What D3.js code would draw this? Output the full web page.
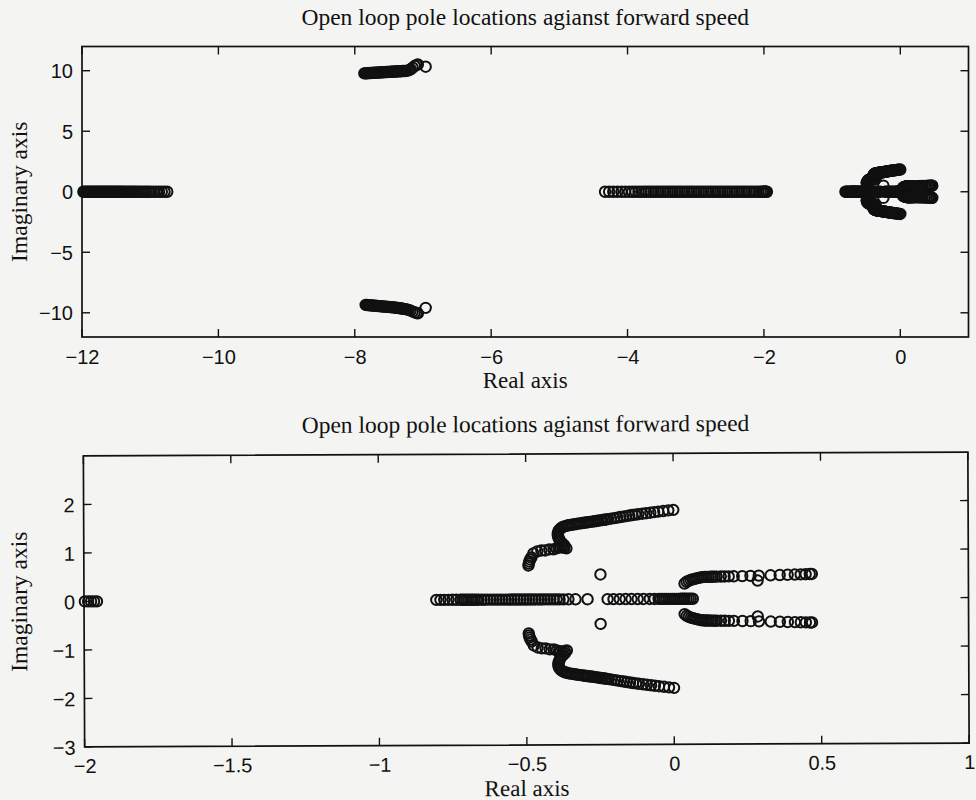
<!DOCTYPE html>
<html>
<head>
<meta charset="utf-8">
<script src="https://cdn.jsdelivr.net/npm/d3@7"></script>
<style>
  html, body { margin: 0; padding: 0; background: #f4f4f2; }
  svg { display: block; }
</style>
</head>
<body>
<svg id="chart" width="976" height="800"></svg>
<script>
// ---------- labels ----------
const titleText = "Open loop pole locations agianst forward speed";
const xLabelText = "Real axis";
const yLabelText = "Imaginary axis";

// ---------- tick values ----------
const topXTicks = [-12, -10, -8, -6, -4, -2, 0];
const topYTicks = [-10, -5, 0, 5, 10];
const bottomXTicks = [-2, -1.5, -1, -0.5, 0, 0.5, 1];
const bottomYTicks = [-3, -2, -1, 0, 1, 2];

// ---------- pole data ----------
// real poles, far left branch
const realPolesFar = [-11.98,-11.96,-11.94,-11.92,-11.90,-11.88,-11.86,-11.84,-11.82,-11.80,
  -11.78,-11.76,-11.74,-11.72,-11.70,-11.68,-11.66,-11.64,-11.62,-11.60,-11.58,-11.56,-11.54,
  -11.52,-11.50,-11.48,-11.46,-11.44,-11.42,-11.40,-11.375,-11.35,-11.325,-11.30,-11.275,-11.25,
  -11.225,-11.20,-11.17,-11.14,-11.11,-11.08,-11.05,-11.02,-10.99,-10.95,-10.91,-10.87,-10.83,
  -10.79,-10.75];

// real poles, middle branch
const realPolesMid = [-4.33,-4.27,-4.21,-4.15,-4.09,-4.035,-3.98,-3.93,-3.885,-3.84,-3.80,-3.76,
  -3.725,-3.69,-3.655,-3.62,-3.585,-3.55,-3.515,-3.48,-3.445,-3.41,-3.375,-3.34,-3.305,-3.27,
  -3.235,-3.20,-3.165,-3.13,-3.095,-3.06,-3.025,-2.99,-2.955,-2.92,-2.885,-2.85,-2.815,-2.78,
  -2.745,-2.71,-2.675,-2.64,-2.605,-2.57,-2.535,-2.50,-2.465,-2.43,-2.395,-2.36,-2.325,-2.29,
  -2.255,-2.22,-2.185,-2.15,-2.115,-2.08,-2.05,-2.025,-2.008,-1.997,-1.986,-1.976,-1.966,-1.956];

// real poles near the origin, left group
const realPolesNearLeft = [-0.805,-0.791,-0.778,-0.764,-0.750,-0.737,-0.723,-0.716,-0.710,-0.703,
  -0.696,-0.689,-0.683,-0.676,-0.669,-0.662,-0.652,-0.642,-0.632,-0.621,-0.611,-0.601,-0.591,
  -0.581,-0.570,-0.560,-0.550,-0.540,-0.530,-0.520,-0.509,-0.499,-0.489,-0.479,-0.469,-0.458,
  -0.448,-0.438,-0.428,-0.418,-0.407,-0.397,-0.387,-0.374,-0.357,-0.333,-0.292];

// real poles near the origin, right group
const realPolesNearRight = [-0.224,-0.204,-0.183,-0.163,-0.143,-0.122,-0.102,-0.081,-0.065,-0.051,
  -0.044,-0.037,-0.031,-0.024,-0.017,-0.010,-0.003,0.003,0.010,0.017,0.024,0.031,0.037,0.044,
  0.051,0.058,0.065];

// high-frequency complex poles [re, im], upper and lower halves
const highPolesUpper = [[-7.86,9.78],[-7.84,9.79],[-7.82,9.79],[-7.80,9.80],[-7.78,9.81],[-7.76,9.81],
  [-7.74,9.82],[-7.72,9.83],[-7.70,9.83],[-7.68,9.84],[-7.66,9.85],[-7.64,9.85],[-7.62,9.86],
  [-7.60,9.87],[-7.58,9.87],[-7.56,9.88],[-7.54,9.89],[-7.52,9.89],[-7.50,9.90],[-7.48,9.91],
  [-7.46,9.91],[-7.44,9.92],[-7.42,9.93],[-7.40,9.93],[-7.38,9.94],[-7.36,9.95],[-7.34,9.95],
  [-7.32,9.96],[-7.30,9.97],[-7.28,9.97],[-7.26,9.98],[-7.24,9.99],[-7.21,10.03],[-7.18,10.12],
  [-7.15,10.25],[-7.12,10.39],[-7.09,10.48],[-7.075,10.52],[-6.96,10.33]];
const highPolesLower = [[-7.84,-9.35],[-7.82,-9.36],[-7.80,-9.37],[-7.78,-9.38],[-7.76,-9.39],
  [-7.74,-9.40],[-7.72,-9.41],[-7.70,-9.42],[-7.68,-9.43],[-7.66,-9.44],[-7.64,-9.45],[-7.62,-9.46],
  [-7.60,-9.47],[-7.58,-9.48],[-7.56,-9.49],[-7.54,-9.50],[-7.52,-9.51],[-7.50,-9.52],[-7.48,-9.53],
  [-7.46,-9.54],[-7.44,-9.55],[-7.42,-9.56],[-7.40,-9.58],[-7.38,-9.59],[-7.36,-9.61],[-7.34,-9.62],
  [-7.32,-9.64],[-7.30,-9.66],[-7.28,-9.68],[-7.26,-9.70],[-7.24,-9.72],[-7.21,-9.76],[-7.18,-9.82],
  [-7.15,-9.90],[-7.12,-9.97],[-7.09,-10.02],[-7.075,-10.05],[-6.96,-9.59]];

// conjugate pairs near the origin (upper half stored, mirrored when drawn)
const nearPairsLeft = [[-0.492,0.701],[-0.491,0.742],[-0.489,0.784],[-0.486,0.825],[-0.482,0.866],
  [-0.475,0.948],[-0.462,0.990],[-0.448,1.010],[-0.435,1.010],[-0.421,1.031],[-0.407,1.031],
  [-0.397,1.052],[-0.390,1.072],[-0.384,1.072],[-0.377,1.072],[-0.370,1.062],[-0.363,1.052],
  [-0.370,1.113],[-0.377,1.155],[-0.384,1.196],[-0.387,1.237],[-0.390,1.278],[-0.392,1.320],
  [-0.392,1.361],[-0.390,1.402],[-0.387,1.433],[-0.382,1.464],[-0.377,1.485],[-0.370,1.505],
  [-0.363,1.515],[-0.357,1.526],[-0.350,1.532],[-0.343,1.538],[-0.336,1.546],[-0.329,1.553],
  [-0.323,1.559],[-0.316,1.565],[-0.309,1.571],[-0.302,1.577],[-0.295,1.584],[-0.289,1.588],
  [-0.282,1.594],[-0.275,1.600],[-0.268,1.606],[-0.261,1.612],[-0.255,1.619],[-0.248,1.625],
  [-0.241,1.631],[-0.234,1.637],[-0.228,1.643],[-0.221,1.649],[-0.211,1.660],[-0.200,1.670],
  [-0.190,1.680],[-0.180,1.691],[-0.170,1.701],[-0.160,1.711],[-0.149,1.722],[-0.139,1.732],
  [-0.129,1.740],[-0.119,1.748],[-0.105,1.759],[-0.092,1.769],[-0.078,1.779],[-0.065,1.790],
  [-0.051,1.800],[-0.034,1.812],[-0.017,1.825],[0.000,1.835]];
const nearPairsRight = [[0.037,0.315],[0.044,0.35],[0.051,0.37],[0.058,0.39],[0.065,0.40],
  [0.071,0.41],[0.078,0.42],[0.085,0.43],[0.092,0.44],[0.098,0.445],[0.105,0.45],[0.112,0.45],
  [0.119,0.45],[0.126,0.452],[0.132,0.453],[0.139,0.454],[0.146,0.455],[0.160,0.456],[0.173,0.457],
  [0.187,0.458],[0.204,0.46],[0.233,0.463],[0.261,0.467],[0.289,0.471],[0.329,0.477],[0.360,0.482],
  [0.387,0.487],[0.411,0.491],[0.431,0.494],[0.448,0.497],[0.462,0.499],[0.469,0.50]];
const nearPairsSingle = [[-0.248,0.51],[0.285,0.37]];

// ---------- assemble all poles as [re, im] ----------
const poles = [];
[realPolesFar, realPolesMid, realPolesNearLeft, realPolesNearRight]
  .forEach(arr => arr.forEach(v => poles.push([v, 0])));
highPolesUpper.forEach(p => poles.push(p));
highPolesLower.forEach(p => poles.push(p));
[nearPairsLeft, nearPairsRight, nearPairsSingle].forEach(arr => arr.forEach(([re, im]) => {
  poles.push([re, im]);
  poles.push([re, -im]);
}));

// ---------- drawing ----------
const svg = d3.select("#chart");
const ink = "#111";
const serif = "'Liberation Serif', 'Times New Roman', serif";
const sans = "'Liberation Sans', Arial, Helvetica, sans-serif";
const fmt = d => (d < 0 ? "\u2212" : "") + Math.abs(d);

function panel(cfg) {
  const g = svg.append("g").attr("transform", cfg.transform || null);
  const x = d3.scaleLinear().domain(cfg.xDomain).range(cfg.xRange);
  const y = d3.scaleLinear().domain(cfg.yDomain).range(cfg.yRange);
  const [x0, x1] = cfg.xRange, [y0, y1] = [cfg.yRange[1], cfg.yRange[0]];
  const tl = 8;

  // markers (points beyond the limits are not drawn)
  const pts = poles.filter(([re, im]) =>
    re >= cfg.xDomain[0] && re <= cfg.xDomain[1] && im >= cfg.yDomain[0] && im <= cfg.yDomain[1]);
  g.append("g").selectAll("circle").data(pts).join("circle")
    .attr("cx", d => x(d[0])).attr("cy", d => y(d[1])).attr("r", 5.2)
    .attr("fill", "none").attr("stroke", ink).attr("stroke-width", 2);

  // axes: bottom/left with labels, top/right as plain inward ticks
  const axB = d3.axisBottom(x).tickValues(cfg.xTicks).tickSize(0).tickPadding(0).tickFormat(fmt);
  const axL = d3.axisLeft(y).tickValues(cfg.yTicks).tickSize(0).tickPadding(0).tickFormat(fmt);
  const gb = g.append("g").attr("transform", `translate(0,${y1})`).call(axB);
  const gl = g.append("g").attr("transform", `translate(${x0},0)`).call(axL);
  [gb, gl].forEach(a => { a.select(".domain").remove(); });
  gb.selectAll("text").attr("y", cfg.tickLabelDy).attr("dy", 0)
    .attr("font-family", sans).attr("font-size", 20).attr("fill", ink);
  gl.selectAll("text").attr("x", -9).attr("dy", "0.36em")
    .attr("font-family", sans).attr("font-size", 20).attr("fill", ink);

  const tickG = g.append("g").attr("stroke", ink).attr("stroke-width", 1.4);
  cfg.xTicks.forEach(t => {
    tickG.append("line").attr("x1", x(t)).attr("x2", x(t)).attr("y1", y1).attr("y2", y1 - tl);
    tickG.append("line").attr("x1", x(t)).attr("x2", x(t)).attr("y1", y0).attr("y2", y0 + tl);
  });
  cfg.yTicks.forEach(t => {
    tickG.append("line").attr("y1", y(t)).attr("y2", y(t)).attr("x1", x0).attr("x2", x0 + tl);
    tickG.append("line").attr("y1", y(t)).attr("y2", y(t)).attr("x1", x1).attr("x2", x1 - tl);
  });
  g.append("rect").attr("x", x0).attr("y", y0).attr("width", x1 - x0).attr("height", y1 - y0)
    .attr("fill", "none").attr("stroke", ink).attr("stroke-width", 1.7);

  const cx = (x0 + x1) / 2;
  g.append("text").attr("x", cx).attr("y", cfg.titleY).attr("text-anchor", "middle")
    .attr("font-family", serif).attr("font-size", 23.5).attr("fill", ink).text(titleText);
  g.append("text").attr("x", cx).attr("y", cfg.xLabelY).attr("text-anchor", "middle")
    .attr("font-family", serif).attr("font-size", 23).attr("fill", ink).text(xLabelText);
  g.append("text").attr("transform", `translate(${cfg.yLabelX},${(y0 + y1) / 2}) rotate(-90)`)
    .attr("text-anchor", "middle")
    .attr("font-family", serif).attr("font-size", 23.5).attr("fill", ink).text(yLabelText);
}

panel({
  xDomain: [-12, 1], yDomain: [-12, 12],
  xRange: [82, 968.5], yRange: [337, 46.5],
  xTicks: topXTicks, yTicks: topYTicks,
  tickLabelDy: 27, titleY: 25, xLabelY: 388, yLabelX: 27
});

panel({
  xDomain: [-2, 1], yDomain: [-3, 3],
  xRange: [84, 968.5], yRange: [745, 454],
  xTicks: bottomXTicks, yTicks: bottomYTicks,
  tickLabelDy: 26, titleY: 432, xLabelY: 796, yLabelX: 27,
  transform: "rotate(-0.25, 526, 600)"
});
</script>
</body>
</html>
